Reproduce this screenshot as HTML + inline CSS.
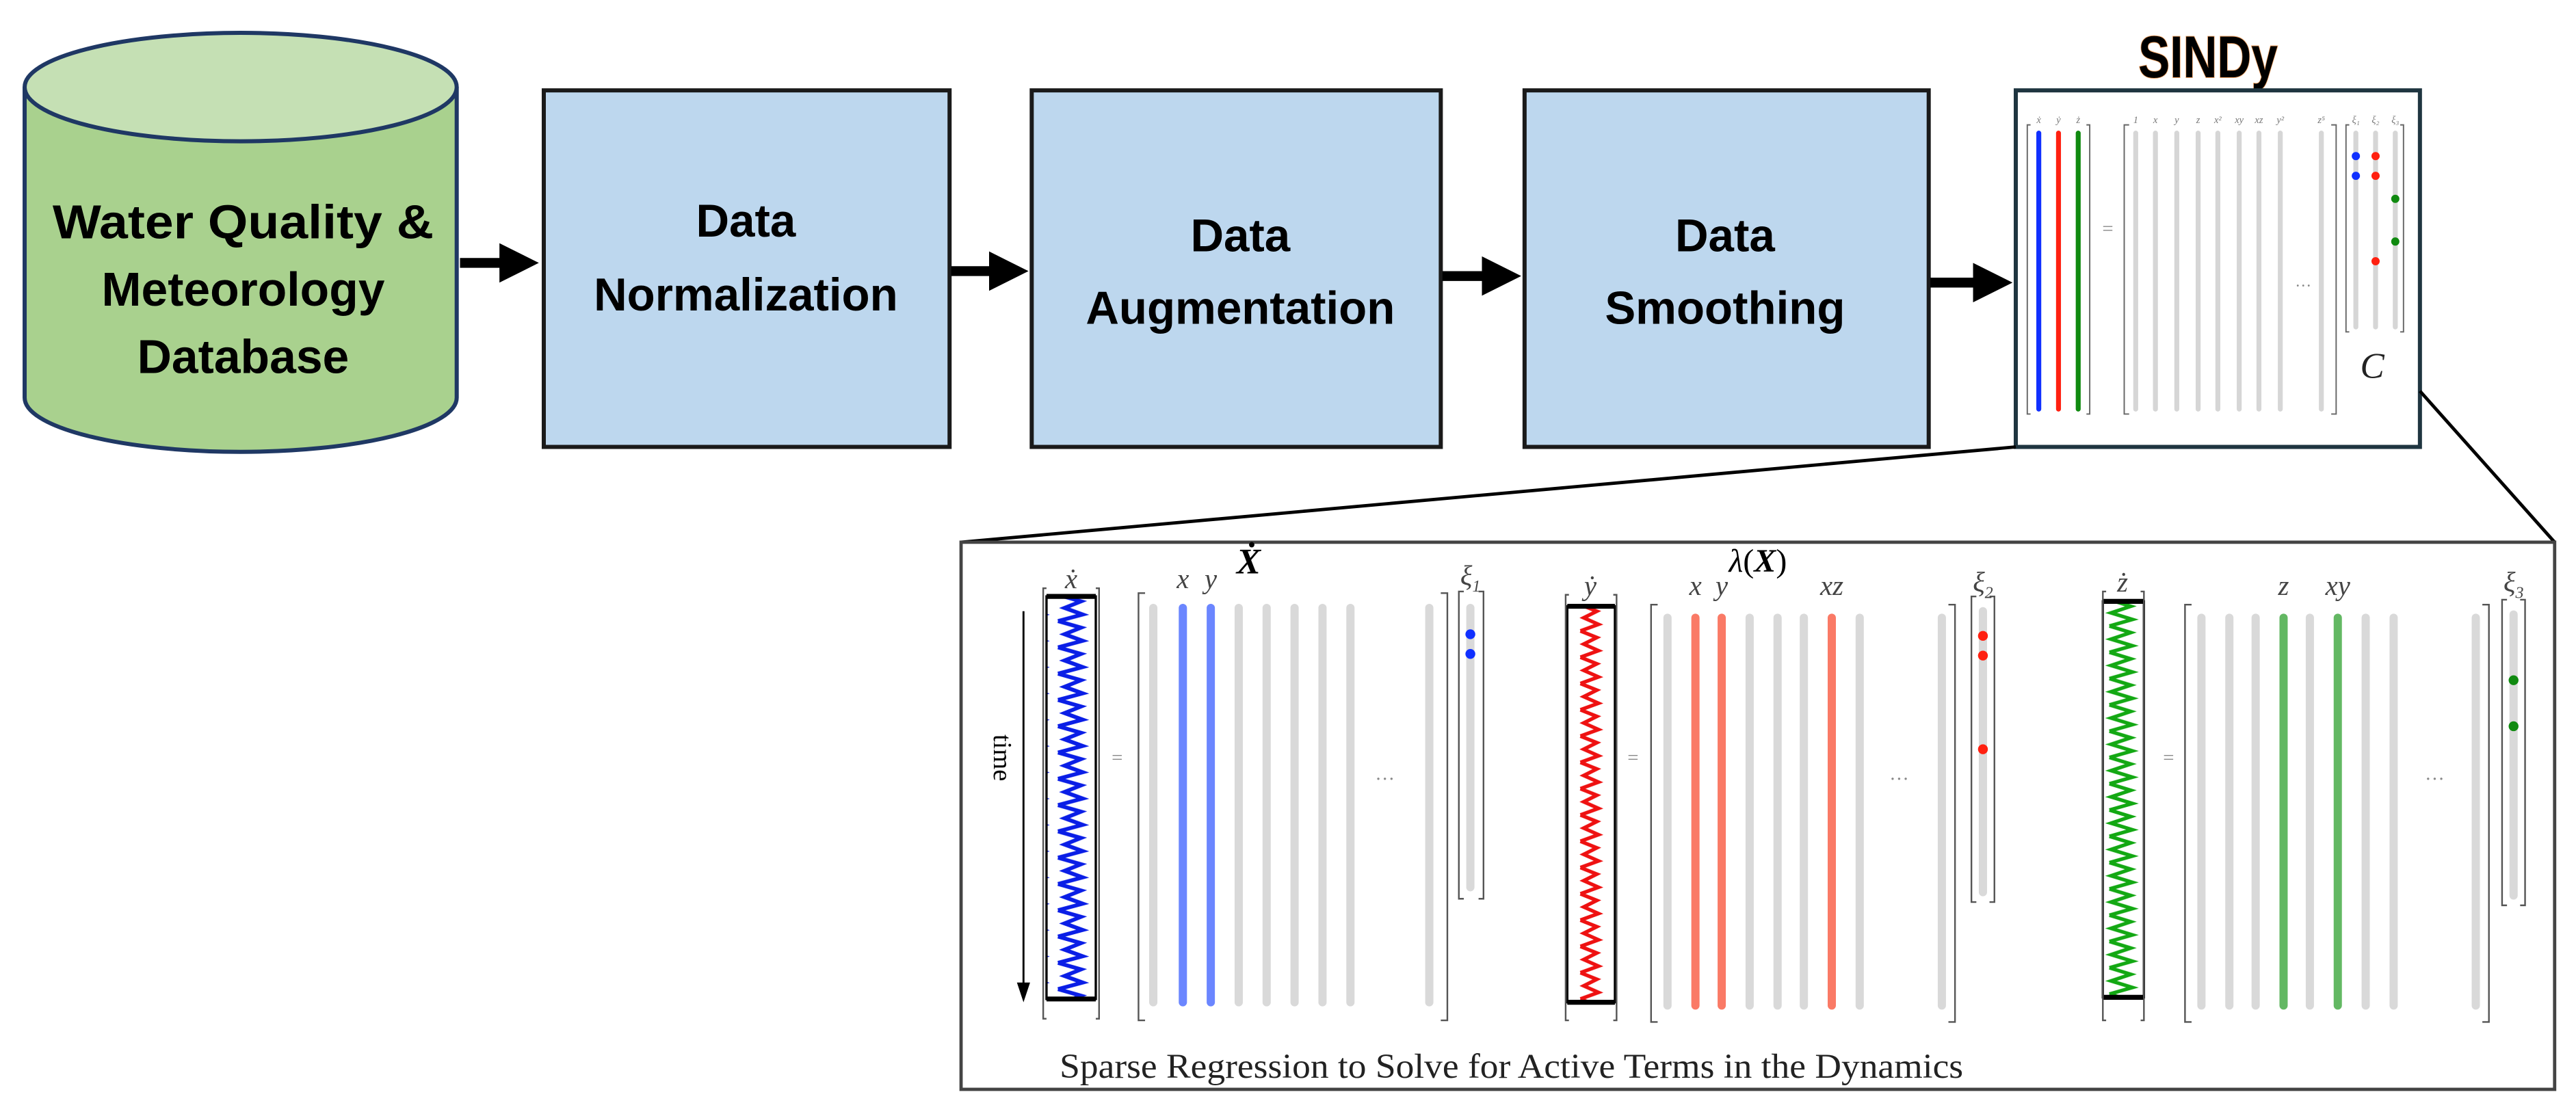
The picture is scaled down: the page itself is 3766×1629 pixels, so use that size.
<!DOCTYPE html>
<html><head><meta charset="utf-8"><style>
html,body{margin:0;padding:0;background:#fff;}
svg{display:block;}
</style></head><body>
<svg width="3766" height="1629" viewBox="0 0 1568 678" preserveAspectRatio="none" xmlns="http://www.w3.org/2000/svg">
<defs>
<pattern id="zb" patternUnits="userSpaceOnUse" x="640" y="362" width="24" height="16"><path d="M4 0 L18 4 L8 8 L19 12 L4 16" fill="none" stroke="#0a1ee6" stroke-width="2.4"/></pattern>
<pattern id="zr" patternUnits="userSpaceOnUse" x="956" y="368" width="24" height="16"><path d="M6 0 L16 4 L8 8 L17 12 L6 16" fill="none" stroke="#ee1111" stroke-width="2.2"/></pattern>
<pattern id="zg" patternUnits="userSpaceOnUse" x="1281" y="365" width="24" height="16"><path d="M3 0 L16 4 L4 8 L17 12 L3 16" fill="none" stroke="#13a813" stroke-width="2.2"/></pattern>
<marker id="ar" markerWidth="4" markerHeight="4" refX="3" refY="2" orient="auto" markerUnits="strokeWidth"><path d="M0,0 L4,2 L0,4 z" fill="#000"/></marker>
</defs>

<!-- cylinder -->
<path d="M15 53 L15 242 A131.5 33 0 0 0 278 242 L278 53" fill="#a9d18e" stroke="#1f3864" stroke-width="2.5"/>
<ellipse cx="146.5" cy="53" rx="131.5" ry="33" fill="#c5e0b4" stroke="#1f3864" stroke-width="2.5"/>
<g font-family="Liberation Sans, sans-serif" font-weight="bold" font-size="29" text-anchor="middle" fill="#000">
<text x="148" y="145" textLength="232" lengthAdjust="spacingAndGlyphs">Water Quality &amp;</text>
<text x="148" y="186">Meteorology</text>
<text x="148" y="227">Database</text>
</g>

<!-- boxes -->
<g fill="#bdd7ee" stroke="#1a1a1a" stroke-width="2.5">
<rect x="331" y="55" width="247" height="217"/>
<rect x="628" y="55" width="249" height="217"/>
<rect x="928" y="55" width="246" height="217"/>
</g>
<g font-family="Liberation Sans, sans-serif" font-weight="bold" font-size="28" text-anchor="middle" fill="#000">
<text x="454" y="144">Data</text>
<text x="454" y="189">Normalization</text>
<text x="755" y="153">Data</text>
<text x="755" y="197">Augmentation</text>
<text x="1050" y="153">Data</text>
<text x="1050" y="197">Smoothing</text>
</g>

<!-- arrows -->
<g stroke="#000" stroke-width="6" marker-end="url(#ar)">
<line x1="280" y1="160" x2="322" y2="160"/>
<line x1="579" y1="165" x2="620" y2="165"/>
<line x1="878" y1="168" x2="920" y2="168"/>
<line x1="1175" y1="172" x2="1219" y2="172"/>
</g>

<!-- SINDy -->
<text x="1344" y="47" font-family="Liberation Sans Narrow, Liberation Sans, sans-serif" font-weight="bold" font-size="36" text-anchor="middle" fill="#000" stroke="#f0a060" stroke-width="0.8" paint-order="stroke" transform="translate(1344 0) scale(0.8 1) translate(-1344 0)">SINDy</text>
<rect x="1227" y="55" width="246" height="217" fill="#fff" stroke="#1f3540" stroke-width="2.5"/>
<g stroke-linecap="round" stroke-width="3">
<line x1="1241" y1="81" x2="1241" y2="249" stroke="#1030ff"/>
<line x1="1253" y1="81" x2="1253" y2="249" stroke="#ff2010"/>
<line x1="1265" y1="81" x2="1265" y2="249" stroke="#108a10"/>
</g>
<g stroke="#d6d6d6" stroke-linecap="round" stroke-width="3">
<line x1="1300" y1="81" x2="1300" y2="249"/><line x1="1312" y1="81" x2="1312" y2="249"/>
<line x1="1325" y1="81" x2="1325" y2="249"/><line x1="1338" y1="81" x2="1338" y2="249"/>
<line x1="1350" y1="81" x2="1350" y2="249"/><line x1="1363" y1="81" x2="1363" y2="249"/>
<line x1="1375" y1="81" x2="1375" y2="249"/><line x1="1388" y1="81" x2="1388" y2="249"/>
<line x1="1413" y1="81" x2="1413" y2="249"/>
<line x1="1434" y1="81" x2="1434" y2="199"/><line x1="1446" y1="81" x2="1446" y2="199"/><line x1="1458" y1="81" x2="1458" y2="199"/>
</g>
<g fill="none" stroke="#666" stroke-width="0.8">
<path d="M1236 76 h-2 v176 h2 M1270 76 h2 v176 h-2"/>
<path d="M1296 76 h-3 v176 h3 M1419 76 h3 v176 h-3"/>
<path d="M1430 76 h-2 v126 h2 M1461 76 h2 v126 h-2"/>
</g>
<text x="1283" y="143" font-size="12" fill="#888" text-anchor="middle">=</text>
<text x="1402" y="177" font-size="10" fill="#888" text-anchor="middle">···</text>
<g fill="#1030ff"><circle cx="1434" cy="95" r="2.5"/><circle cx="1434" cy="107" r="2.5"/></g>
<g fill="#ff2010"><circle cx="1446" cy="95" r="2.5"/><circle cx="1446" cy="107" r="2.5"/><circle cx="1446" cy="159" r="2.5"/></g>
<g fill="#108a10"><circle cx="1458" cy="121" r="2.5"/><circle cx="1458" cy="147" r="2.5"/></g>
<text x="1444" y="230" font-family="Liberation Serif, serif" font-style="italic" font-size="22" text-anchor="middle" fill="#222">C</text>
<g font-family="Liberation Serif, serif" font-style="italic" font-size="6" fill="#777" text-anchor="middle">
<text x="1241" y="75">ẋ</text><text x="1253" y="75">ẏ</text><text x="1265" y="75">ż</text>
<text x="1300" y="75">1</text><text x="1312" y="75">x</text><text x="1325" y="75">y</text><text x="1338" y="75">z</text><text x="1350" y="75">x²</text><text x="1363" y="75">xy</text><text x="1375" y="75">xz</text><text x="1388" y="75">y²</text><text x="1413" y="75">z⁵</text>
<text x="1434" y="75">ξ₁</text><text x="1446" y="75">ξ₂</text><text x="1458" y="75">ξ₃</text>
</g>

<!-- zoom connectors -->
<line x1="1227" y1="272" x2="585" y2="330" stroke="#000" stroke-width="2"/>
<line x1="1473" y1="238" x2="1555" y2="330" stroke="#000" stroke-width="2"/>

<!-- lower box -->
<rect x="585" y="330" width="970" height="333" fill="#fff" stroke="#444" stroke-width="2"/>
<text x="760" y="349" font-family="Liberation Serif, serif" font-style="italic" font-weight="bold" font-size="22" text-anchor="middle">Ẋ</text>
<text x="1070" y="348" font-family="Liberation Serif, serif" font-size="20" text-anchor="middle"><tspan font-style="italic">λ</tspan>(<tspan font-style="italic" font-weight="bold">X</tspan>)</text>

<!-- time arrow -->
<line x1="623" y1="372" x2="623" y2="604" stroke="#000" stroke-width="1.2"/>
<path d="M619 598 L623 610 L627 598 z" fill="#000"/>
<text x="0" y="0" font-family="Liberation Serif, serif" font-size="16" transform="translate(605 447) rotate(90)">time</text>

<!-- derivative columns -->
<rect x="637" y="363" width="30" height="245" fill="url(#zb)" stroke="none"/>
<rect x="954" y="369" width="29" height="241" fill="url(#zr)"/>
<rect x="1280" y="366" width="25" height="241" fill="url(#zg)"/>
<g fill="none" stroke="#000" stroke-width="1.4">
<rect x="637" y="363" width="30" height="245"/>
<rect x="954" y="369" width="29" height="241"/>
<rect x="1280" y="366" width="25" height="241"/>
</g>
<g stroke="#000" stroke-width="3">
<line x1="637" y1="363" x2="667" y2="363"/><line x1="637" y1="608" x2="667" y2="608"/>
<line x1="954" y1="369" x2="983" y2="369"/><line x1="954" y1="610" x2="983" y2="610"/>
<line x1="1280" y1="366" x2="1305" y2="366"/><line x1="1280" y1="607" x2="1305" y2="607"/>
</g>

<!-- brackets -->
<g fill="none" stroke="#555" stroke-width="1">
<path d="M637 358 h-2 v262 h2 M667 358 h2 v262 h-2"/>
<path d="M697 361 h-4 v260 h4 M877 361 h4 v260 h-4"/>
<path d="M891 360 h-3 v187 h3 M900 360 h3 v187 h-3"/>
<path d="M955 362 h-2 v259 h2 M982 362 h2 v259 h-2"/>
<path d="M1009 368 h-4 v254 h4 M1186 368 h4 v254 h-4"/>
<path d="M1203 363 h-3 v186 h3 M1211 363 h3 v186 h-3"/>
<path d="M1282 360 h-2 v261 h2 M1303 360 h2 v261 h-2"/>
<path d="M1334 368 h-4 v254 h4 M1511 368 h4 v254 h-4"/>
<path d="M1526 365 h-3 v186 h3 M1534 365 h3 v186 h-3"/>
</g>

<!-- matrix columns -->
<g stroke-linecap="round" stroke-width="5">
<g stroke="#d9d9d9">
<line x1="702" y1="370" x2="702" y2="610"/><line x1="754" y1="370" x2="754" y2="610"/><line x1="771" y1="370" x2="771" y2="610"/><line x1="788" y1="370" x2="788" y2="610"/><line x1="805" y1="370" x2="805" y2="610"/><line x1="822" y1="370" x2="822" y2="610"/><line x1="870" y1="370" x2="870" y2="610"/>
<line x1="895" y1="370" x2="895" y2="540"/>
<line x1="1015" y1="376" x2="1015" y2="612"/><line x1="1065" y1="376" x2="1065" y2="612"/><line x1="1082" y1="376" x2="1082" y2="612"/><line x1="1098" y1="376" x2="1098" y2="612"/><line x1="1132" y1="376" x2="1132" y2="612"/><line x1="1182" y1="376" x2="1182" y2="612"/>
<line x1="1207" y1="372" x2="1207" y2="543"/>
<line x1="1340" y1="376" x2="1340" y2="612"/><line x1="1357" y1="376" x2="1357" y2="612"/><line x1="1373" y1="376" x2="1373" y2="612"/><line x1="1406" y1="376" x2="1406" y2="612"/><line x1="1440" y1="376" x2="1440" y2="612"/><line x1="1457" y1="376" x2="1457" y2="612"/><line x1="1507" y1="376" x2="1507" y2="612"/>
<line x1="1530" y1="374" x2="1530" y2="545"/>
</g>
<g stroke="#6b86ff"><line x1="720" y1="370" x2="720" y2="610"/><line x1="737" y1="370" x2="737" y2="610"/></g>
<g stroke="#fa7a66"><line x1="1032" y1="376" x2="1032" y2="612"/><line x1="1048" y1="376" x2="1048" y2="612"/><line x1="1115" y1="376" x2="1115" y2="612"/></g>
<g stroke="#63b863"><line x1="1390" y1="376" x2="1390" y2="612"/><line x1="1423" y1="376" x2="1423" y2="612"/></g>
</g>
<g fill="#1030ff"><circle cx="895" cy="386" r="3"/><circle cx="895" cy="398" r="3"/></g>
<g fill="#ff2010"><circle cx="1207" cy="387" r="3"/><circle cx="1207" cy="399" r="3"/><circle cx="1207" cy="456" r="3"/></g>
<g fill="#108a10"><circle cx="1530" cy="414" r="3"/><circle cx="1530" cy="442" r="3"/></g>

<g font-family="Liberation Serif, serif" fill="#888" font-size="12" text-anchor="middle">
<text x="680" y="465">=</text><text x="994" y="465">=</text><text x="1320" y="465">=</text>
<text x="843" y="478">···</text><text x="1156" y="478">···</text><text x="1482" y="478">···</text>
</g>
<g font-family="Liberation Serif, serif" font-style="italic" fill="#444" font-size="17" text-anchor="middle">
<text x="652" y="358">ẋ</text><text x="720" y="358">x</text><text x="737" y="358">y</text><text x="895" y="356">ξ<tspan font-size="10" dy="4">1</tspan></text>
<text x="968" y="362">ẏ</text><text x="1032" y="362">x</text><text x="1048" y="362">y</text><text x="1115" y="362">xz</text><text x="1207" y="360">ξ<tspan font-size="10" dy="4">2</tspan></text>
<text x="1292" y="360">ż</text><text x="1390" y="362">z</text><text x="1423" y="362">xy</text><text x="1530" y="360">ξ<tspan font-size="10" dy="4">3</tspan></text>
</g>
<text x="645" y="656" font-family="Liberation Serif, serif" font-size="21" fill="#222" textLength="550" lengthAdjust="spacingAndGlyphs">Sparse Regression to Solve for Active Terms in the Dynamics</text>
</svg>
</body></html>
